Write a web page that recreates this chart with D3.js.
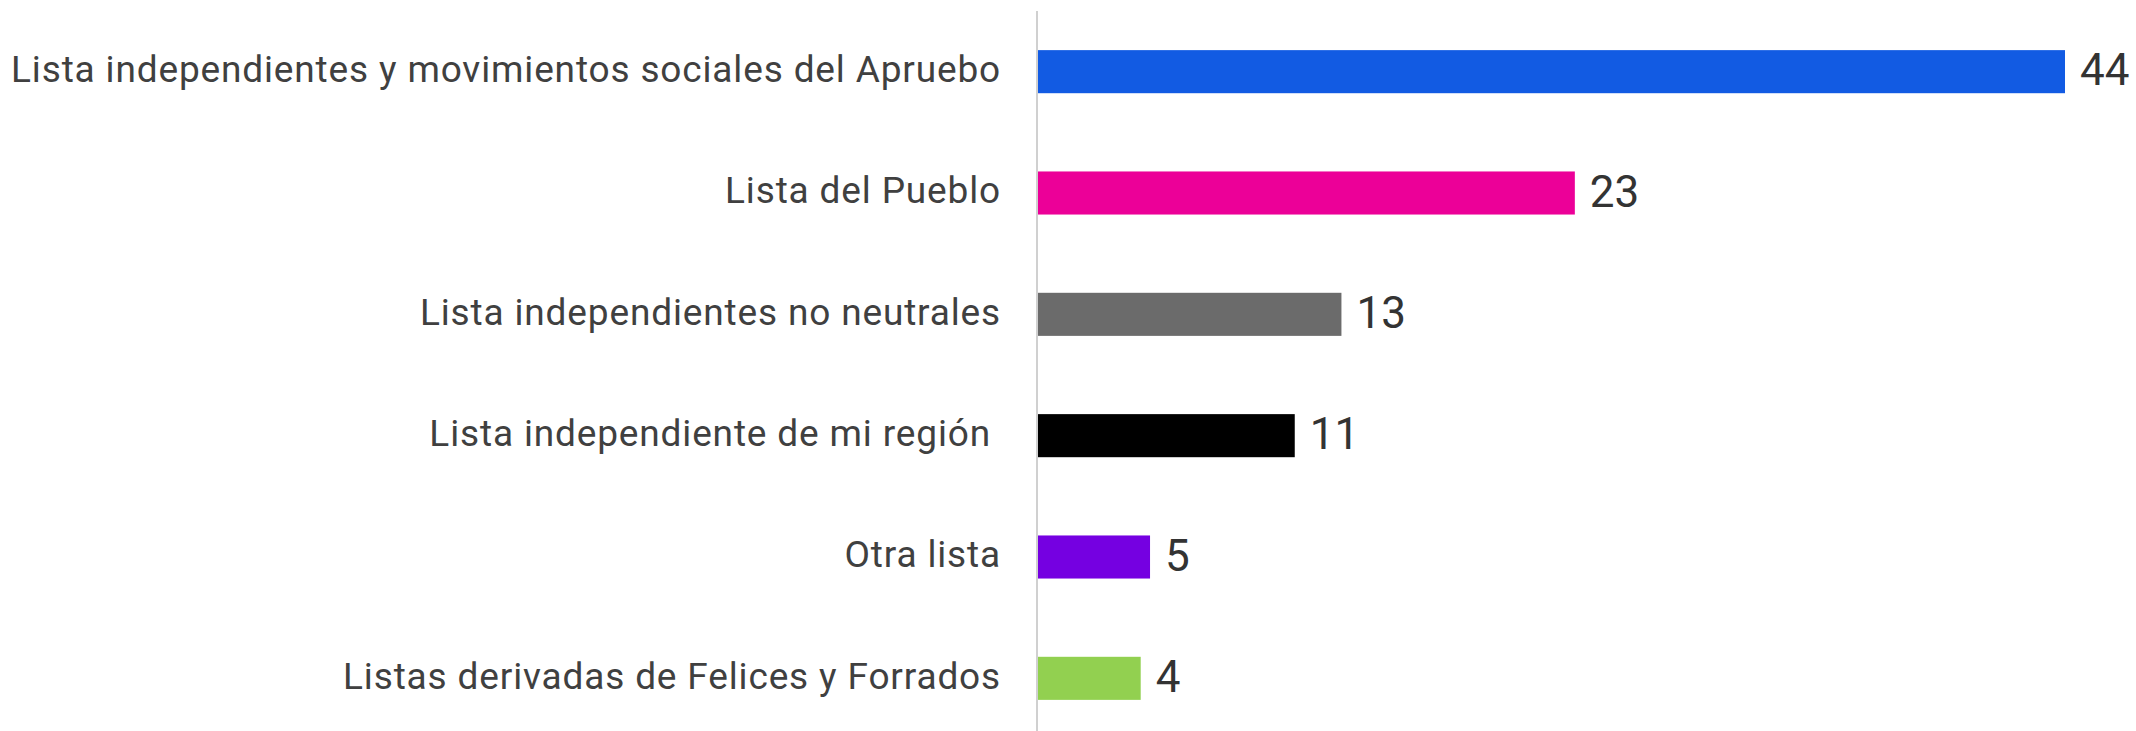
<!DOCTYPE html>
<html>
<head>
<meta charset="utf-8">
<script src="https://cdn.jsdelivr.net/npm/d3@7/dist/d3.min.js"></script>
<style>
  html, body { margin: 0; padding: 0; background: #ffffff; }
  svg { display: block; }
</style>
</head>
<body>
<svg id="chart" width="2136" height="731"></svg>
<script>
const categories = [
  "Lista independientes y movimientos sociales del Apruebo",
  "Lista del Pueblo",
  "Lista independientes no neutrales",
  "Lista independiente de mi región ",
  "Otra lista",
  "Listas derivadas de Felices y Forrados"
];
const values = [44, 23, 13, 11, 4.8, 4.4];
const valueLabels = ["44", "23", "13", "11", "5", "4"];
const colors = ["#125BE3", "#EC0098", "#6B6B6B", "#000000", "#7500E1", "#92D050"];

const W = 2136, H = 731;
const axisX = 1038;
const svg = d3.select("#chart");

const x = d3.scaleLinear().domain([0, 44]).range([axisX, 2065]);
const y = d3.scaleBand().domain(categories).range([11, 739])
  .paddingInner(0.645).paddingOuter(0.3225);

svg.selectAll("rect.bar").data(categories).join("rect")
  .attr("class", "bar")
  .attr("x", x(0))
  .attr("y", d => y(d))
  .attr("width", (d, i) => x(values[i]) - x(0))
  .attr("height", y.bandwidth())
  .attr("fill", (d, i) => colors[i]);

// axis line
svg.append("line")
  .attr("x1", axisX - 1).attr("x2", axisX - 1)
  .attr("y1", 11).attr("y2", H)
  .attr("stroke", "#d0d0d0").attr("stroke-width", 2);

// category labels
svg.selectAll("text.cat").data(categories).join("text")
  .attr("class", "cat")
  .attr("x", 1001)
  .attr("y", d => y(d) + y.bandwidth() / 2)
  .attr("dy", "0.28em")
  .attr("text-anchor", "end")
  .style("white-space", "pre")
  .attr("font-family", "Roboto, sans-serif")
  .attr("font-size", 37)
  .attr("letter-spacing", 0.85)
  .attr("fill", "#404040")
  .text(d => d);

// value labels
svg.selectAll("text.val").data(categories).join("text")
  .attr("class", "val")
  .attr("x", (d, i) => x(values[i]) + 15)
  .attr("y", d => y(d) + y.bandwidth() / 2)
  .attr("dy", "0.31em")
  .attr("font-family", "Roboto, sans-serif")
  .attr("font-size", 44)
  .attr("fill", "#333333")
  .text((d, i) => valueLabels[i]);
</script>
</body>
</html>
